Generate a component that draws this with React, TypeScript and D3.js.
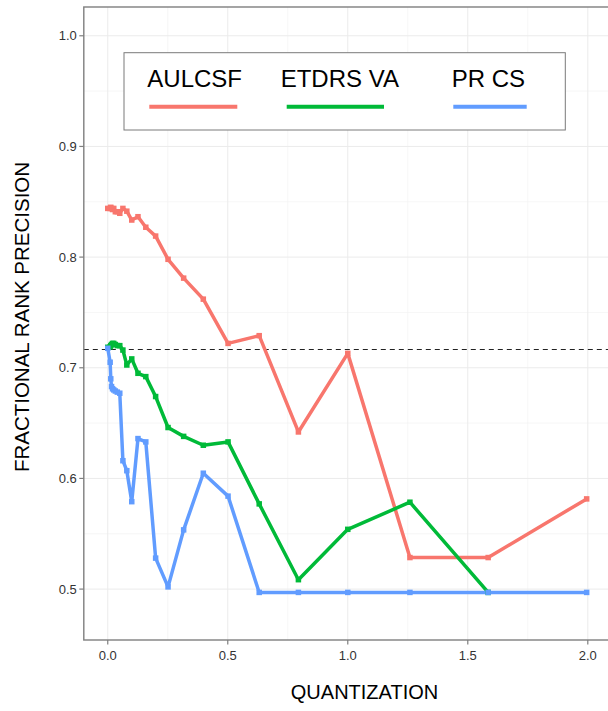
import * as d3 from 'd3';

const quantization = [0, 0.01, 0.0126, 0.0158, 0.02, 0.0251, 0.0316, 0.0398, 0.0501, 0.0631, 0.0794, 0.1, 0.1259, 0.1585, 0.1995, 0.2512, 0.3162, 0.3981, 0.5012, 0.631, 0.7943, 1.0, 1.2589, 1.5849, 1.9953];

const aulcsf = [0.844, 0.844, 0.845, 0.844, 0.843, 0.844, 0.841, 0.841, 0.8396, 0.844, 0.8415, 0.8335, 0.8365, 0.827, 0.819, 0.798, 0.781, 0.762, 0.722, 0.729, 0.642, 0.713, 0.5285, 0.5285, 0.5815];
// last ETDRS point sits under the PR CS line in the picture, so it is left out
const etdrsVA = [0.7185, 0.719, 0.72, 0.721, 0.722, 0.722, 0.721, 0.72, 0.72, 0.716, 0.7025, 0.708, 0.695, 0.692, 0.674, 0.646, 0.638, 0.63, 0.633, 0.577, 0.5085, 0.554, 0.5785, 0.497, null];
const prCS = [0.7176, 0.705, 0.69, 0.683, 0.681, 0.68, 0.679, 0.678, 0.677, 0.616, 0.607, 0.579, 0.636, 0.633, 0.528, 0.502, 0.5535, 0.6047, 0.584, 0.497, 0.497, 0.497, 0.497, 0.497, 0.497];

const seriesNames = ['AULCSF', 'ETDRS VA', 'PR CS'];
const seriesColors = ['#F8766D', '#00BA38', '#619CFF'];
const seriesValues: (number | null)[][] = [aulcsf, etdrsVA, prCS];

const referenceLevel = 0.717;
const xTicks = [0, 0.5, 1, 1.5, 2];
const xMinor = [0.25, 0.75, 1.25, 1.75];
const yTicks = [0.5, 0.6, 0.7, 0.8, 0.9, 1.0];
const yMinor = [0.55, 0.65, 0.75, 0.85, 0.95];

const W = 608;
const H = 711;
const font = '"Liberation Sans", Arial, Helvetica, sans-serif';

const App = () => {
  const left = 83.8;
  const right = 610.6;
  const top = 7;
  const bottom = 640;

  const x = d3.scaleLinear().domain([-0.0998, 2.095]).range([left, right]);
  const y = d3.scaleLinear().domain([0.454, 1.026]).range([bottom, top]);

  const line = d3.line<[number, number]>().x(d => x(d[0])).y(d => y(d[1]));
  const series = seriesValues.map(vals =>
    quantization
      .map((q, i) => [q, vals[i]] as [number, number | null])
      .filter(d => d[1] != null) as [number, number][]
  );

  // legend layout
  const legendText = [147.3, 280.7, 451.7];
  const legendLine = [[149.3, 237.3], [286.7, 384], [453.3, 526.7]];

  const refY = Math.round(y(referenceLevel)) + 0.5;

  return (
    <svg width={W} height={H} style={{ position: 'absolute', left: 0, top: 0, background: '#fff' }} fontFamily={font}>
      <rect x={0} y={0} width={W} height={H} fill="#fff" />
      {/* grid */}
      <g>
        {xMinor.map(v => (
          <line key={'xm' + v} x1={x(v)} x2={x(v)} y1={top} y2={bottom} stroke="#f2f2f2" strokeWidth={0.7} />
        ))}
        {yMinor.map(v => (
          <line key={'ym' + v} x1={left} x2={right} y1={y(v)} y2={y(v)} stroke="#f2f2f2" strokeWidth={0.7} />
        ))}
        {xTicks.map(v => (
          <line key={'xg' + v} x1={x(v)} x2={x(v)} y1={top} y2={bottom} stroke="#ebebeb" strokeWidth={1} />
        ))}
        {yTicks.map(v => (
          <line key={'yg' + v} x1={left} x2={right} y1={y(v)} y2={y(v)} stroke="#ebebeb" strokeWidth={1} />
        ))}
      </g>

      {/* reference line */}
      <line x1={left} x2={right} y1={refY} y2={refY} stroke="#222" strokeWidth={1} strokeDasharray="5,4" />

      {/* series */}
      <g fill="none" strokeWidth={3.5} strokeLinejoin="round">
        {series.map((s, i) => (
          <path key={'l' + i} d={line(s) || ''} stroke={seriesColors[i]} />
        ))}
      </g>
      <g>
        {series.map((s, i) =>
          s.map((d, j) => (
            <rect key={'p' + i + '-' + j} x={x(d[0]) - 2.75} y={y(d[1]) - 2.75} width={5.5} height={5.5} fill={seriesColors[i]} />
          ))
        )}
      </g>

      {/* panel border */}
      <rect x={left} y={top} width={right - left} height={bottom - top} fill="none" stroke="#7f7f7f" strokeWidth={1.4} />

      {/* axes */}
      <g fontSize={13} fill="#333">
        {yTicks.map(v => (
          <g key={'yt' + v}>
            <line x1={left - 4.5} x2={left} y1={y(v)} y2={y(v)} stroke="#7f7f7f" strokeWidth={1.2} />
            <text x={left - 7} y={y(v)} dy="0.35em" textAnchor="end">{d3.format('.1f')(v)}</text>
          </g>
        ))}
        {xTicks.map(v => (
          <g key={'xt' + v}>
            <line x1={x(v)} x2={x(v)} y1={bottom} y2={bottom + 4.5} stroke="#7f7f7f" strokeWidth={1.2} />
            <text x={x(v)} y={bottom + 20} textAnchor="middle">{d3.format('.1f')(v)}</text>
          </g>
        ))}
      </g>
      <text x={364.5} y={699} fontSize={20} textAnchor="middle" fill="#000">QUANTIZATION</text>
      <text transform="translate(28.5,317) rotate(-90)" fontSize={20.5} textAnchor="middle" fill="#000">FRACTIONAL RANK PRECISION</text>

      {/* legend */}
      <rect x={124} y={52.7} width={441.3} height={77.3} fill="#fff" stroke="#7a7a7a" strokeWidth={1} />
      {seriesNames.map((n, i) => (
        <g key={'lg' + n}>
          <text x={legendText[i]} y={86.7} fontSize={24} fill="#000">{n}</text>
          <line x1={legendLine[i][0]} x2={legendLine[i][1]} y1={106.7} y2={106.7} stroke={seriesColors[i]} strokeWidth={4} />
        </g>
      ))}
    </svg>
  );
};

export default App;
